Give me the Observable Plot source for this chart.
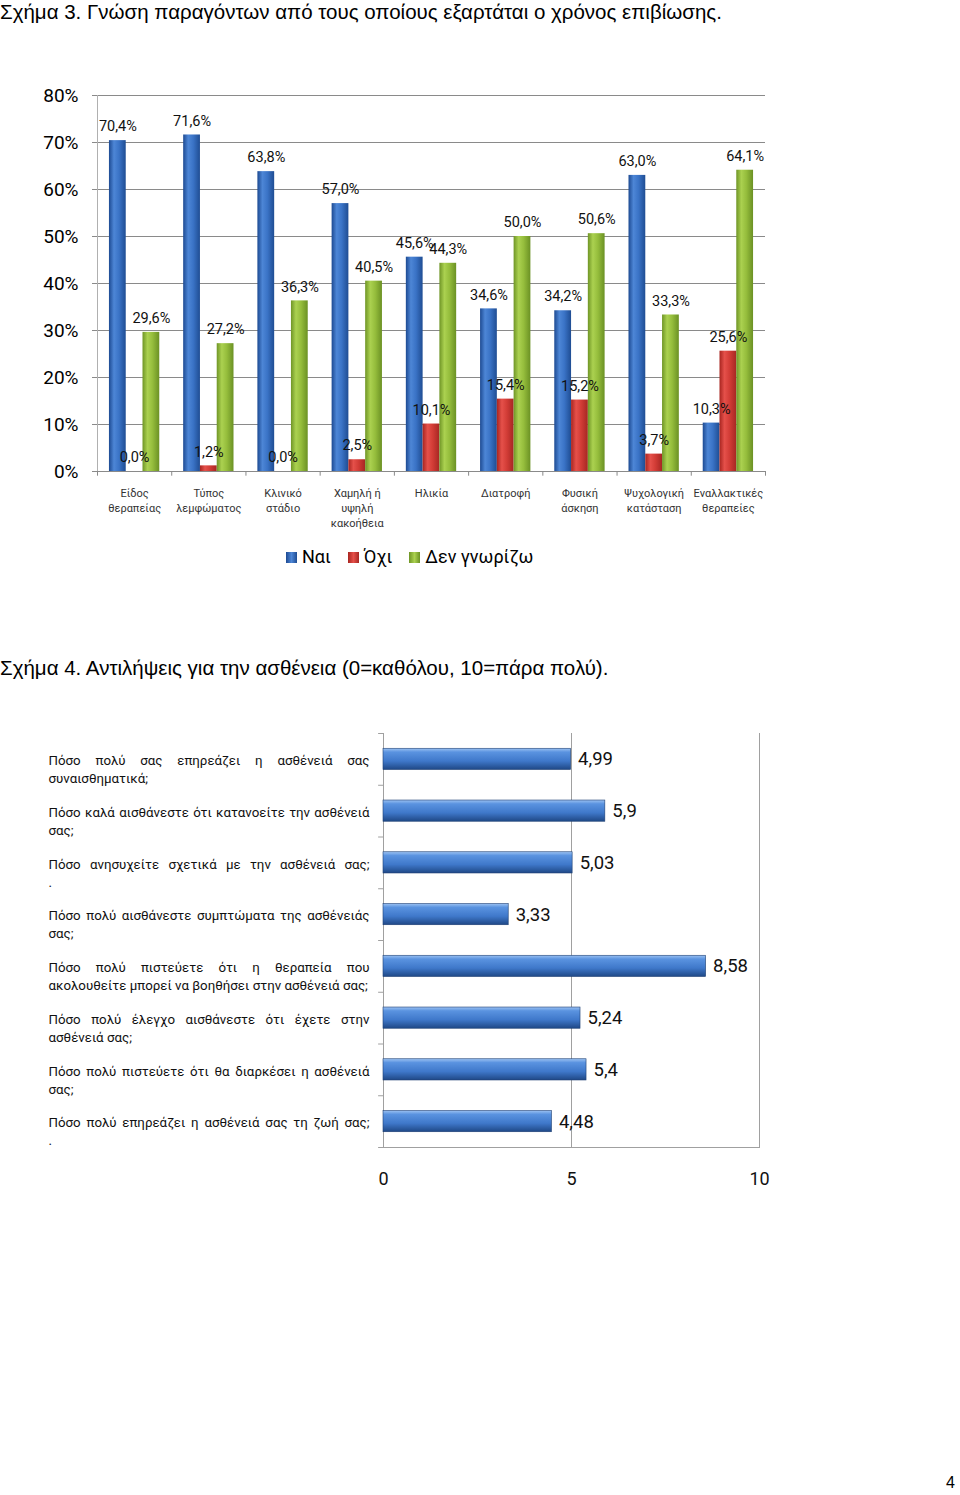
<!DOCTYPE html>
<html>
<head>
<meta charset="utf-8">
<script src="https://cdn.jsdelivr.net/npm/d3@7"></script>
<script src="https://cdn.jsdelivr.net/npm/@observablehq/plot@0.6"></script>
<style>
  html, body { margin: 0; padding: 0; background: #fff; }
  body { width: 960px; height: 1495px; position: relative; overflow: hidden; font-family: Roboto, "Noto Sans", sans-serif; }
  .title { position: absolute; left: 0; font-family: "Liberation Sans", Arial, sans-serif; font-size: 20.5px; line-height: 23px; color: #000; white-space: nowrap; }
  #t1 { top: 0px; }
  #t2 { top: 656px; }
  #chart1 { position: absolute; left: 0; top: 80px; }
  #chart2 { position: absolute; left: 0; top: 720px; }
  #legend { position: absolute; left: 286px; top: 545px; display: flex; align-items: center; font-size: 18px; line-height: 24px; color: #000; }
  #legend .item { display: flex; align-items: center; margin-right: 17px; }
  #legend .sw { width: 11px; height: 11px; margin-right: 5px; }
  #page { position: absolute; left: 946px; top: 1474px; font-family: "Liberation Sans", Arial, sans-serif; font-size: 16px; }
</style>
</head>
<body>
<svg width="0" height="0" style="position:absolute">
  <defs>
    <linearGradient id="gBlue" x1="0" y1="0" x2="1" y2="0">
      <stop offset="0" stop-color="#1d4a92"/>
      <stop offset="0.3" stop-color="#4d86d6"/>
      <stop offset="0.6" stop-color="#3a73c6"/>
      <stop offset="1" stop-color="#1f4d93"/>
    </linearGradient>
    <linearGradient id="gRed" x1="0" y1="0" x2="1" y2="0">
      <stop offset="0" stop-color="#a82520"/>
      <stop offset="0.3" stop-color="#e5504a"/>
      <stop offset="0.6" stop-color="#d23c36"/>
      <stop offset="1" stop-color="#a62723"/>
    </linearGradient>
    <linearGradient id="gGreen" x1="0" y1="0" x2="1" y2="0">
      <stop offset="0" stop-color="#6f9526"/>
      <stop offset="0.3" stop-color="#abd150"/>
      <stop offset="0.6" stop-color="#95bd3c"/>
      <stop offset="1" stop-color="#6b9124"/>
    </linearGradient>
    <linearGradient id="gHBar" x1="0" y1="0" x2="0" y2="1">
      <stop offset="0" stop-color="#9cc2f2"/>
      <stop offset="0.18" stop-color="#5a93e0"/>
      <stop offset="0.6" stop-color="#3f78ca"/>
      <stop offset="1" stop-color="#1f4886"/>
    </linearGradient>
  </defs>
</svg>

<div id="t1" class="title">Σχήμα 3. Γνώση παραγόντων από τους οποίους εξαρτάται ο χρόνος επιβίωσης.</div>
<div id="chart1"></div>
<div id="legend"></div>
<div id="t2" class="title">Σχήμα 4. Αντιλήψεις για την ασθένεια (0=καθόλου, 10=πάρα πολύ).</div>
<div id="chart2"></div>
<div id="page">4</div>

<script>
// ---------- Data: Figure 3 ----------
const categories = [
  "Είδος\nθεραπείας",
  "Τύπος\nλεμφώματος",
  "Κλινικό\nστάδιο",
  "Χαμηλή ή\nυψηλή\nκακοήθεια",
  "Ηλικία",
  "Διατροφή",
  "Φυσική\nάσκηση",
  "Ψυχολογική\nκατάσταση",
  "Εναλλακτικές\nθεραπείες"
];
const seriesNames = ["Ναι", "Όχι", "Δεν γνωρίζω"];
const yesValues = [70.4, 71.6, 63.8, 57.0, 45.6, 34.6, 34.2, 63.0, 10.3];
const noValues = [0.0, 1.2, 0.0, 2.5, 10.1, 15.4, 15.2, 3.7, 25.6];
const dontKnowValues = [29.6, 27.2, 36.3, 40.5, 44.3, 50.0, 50.6, 33.3, 64.1];
const yTicks = [0, 10, 20, 30, 40, 50, 60, 70, 80];

// ---------- Data: Figure 4 ----------
const questions = [
  "Πόσο πολύ σας επηρεάζει η ασθένειά σας\nσυναισθηματικά;",
  "Πόσο καλά αισθάνεστε ότι κατανοείτε την ασθένειά\nσας;",
  "Πόσο ανησυχείτε σχετικά με την ασθένειά σας;\n.",
  "Πόσο πολύ αισθάνεστε συμπτώματα της ασθένειάς\nσας;",
  "Πόσο πολύ πιστεύετε ότι η θεραπεία που\nακολουθείτε μπορεί να βοηθήσει στην ασθένειά σας;",
  "Πόσο πολύ έλεγχο αισθάνεστε ότι έχετε στην\nασθένειά σας;",
  "Πόσο πολύ πιστεύετε ότι θα διαρκέσει η ασθένειά\nσας;",
  "Πόσο πολύ επηρεάζει η ασθένειά σας τη ζωή σας;\n."
];
const scores = [4.99, 5.9, 5.03, 3.33, 8.58, 5.24, 5.4, 4.48];
const xTicks = [0, 5, 10];

// ---------- Chart 1 ----------
const seriesFills = ["url(#gBlue)", "url(#gRed)", "url(#gGreen)"];
const legendFills = ["linear-gradient(90deg,#1d4a92,#4d86d6,#1f4d93)", "linear-gradient(90deg,#a82520,#e5504a,#a62723)", "linear-gradient(90deg,#6f9526,#abd150,#6b9124)"];
const seriesValues = [yesValues, noValues, dontKnowValues];

const W1 = 800, H1 = 460, ML1 = 97, MR1 = 35, MT1 = 15, MB1 = 69;
const bw = (W1 - ML1 - MR1) / categories.length;
const barW = bw * 0.226;
const pct = v => v.toFixed(1).replace(".", ",") + "%";

const rowsFor = (vals, s) => categories.map((c, i) => ({category: c, series: s, value: vals[i]}));

const marks1 = [
  Plot.ruleY(yTicks.slice(1), {stroke: "#8a8a8a", strokeWidth: 1}),
  Plot.axisY({ticks: yTicks, tickFormat: d => d + "%", tickSize: 5, tickPadding: 14, fontSize: 19, stroke: "#8a8a8a", fill: "#000", label: null}),
  Plot.frame({anchor: "left", stroke: "#b0b0b0"}),
  Plot.frame({anchor: "bottom", stroke: "#8a8a8a"}),
  Plot.ruleX(categories, {x: d => d, dx: -bw / 2, y1: 0, y2: -1, stroke: "#8a8a8a"}),
  Plot.ruleX(categories.slice(-1), {x: d => d, dx: bw / 2, y1: 0, y2: -1, stroke: "#8a8a8a"}),
  Plot.axisX({tickSize: 0, tickPadding: 15, fontSize: 11, lineHeight: 1.36, fill: "#333", label: null})
];
seriesNames.forEach((s, i) => {
  const left = bw / 2 - 1.5 * barW + i * barW;
  marks1.push(Plot.barY(rowsFor(seriesValues[i], s), {
    x: "category", y: "value", fill: seriesFills[i],
    insetLeft: left, insetRight: bw - left - barW
  }));
});
seriesNames.forEach((s, i) => {
  marks1.push(Plot.text(rowsFor(seriesValues[i], s), {
    x: "category", y: "value", text: d => pct(d.value),
    dx: (i - 1) * barW, dy: -14, fontSize: 14.5, fill: "#111"
  }));
});

const chart1 = Plot.plot({
  width: W1, height: H1,
  marginLeft: ML1, marginRight: MR1, marginTop: MT1, marginBottom: MB1,
  style: {fontFamily: "Roboto, 'Noto Sans', sans-serif", background: "transparent", overflow: "visible"},
  x: {domain: categories, padding: 0, round: false, axis: null, label: null},
  y: {domain: [0, 80], axis: null, label: null},
  marks: marks1
});
document.getElementById("chart1").append(chart1);

// legend
const legend = document.getElementById("legend");
seriesNames.forEach((s, i) => {
  const item = document.createElement("div");
  item.className = "item";
  const sw = document.createElement("span");
  sw.className = "sw";
  sw.style.background = legendFills[i];
  const lab = document.createElement("span");
  lab.textContent = s;
  item.append(sw, lab);
  legend.append(item);
});

// ---------- Chart 2 ----------
const W2 = 800, H2 = 480, ML2 = 383, MR2 = 41, MT2 = 13, MB2 = 53;
const step2 = (H2 - MT2 - MB2) / questions.length;
const scoreRows = questions.map((q, i) => ({question: q, score: scores[i]}));
const num = v => String(v).replace(".", ",");

const chart2 = Plot.plot({
  width: W2, height: H2,
  marginLeft: ML2, marginRight: MR2, marginTop: MT2, marginBottom: MB2,
  style: {fontFamily: "Roboto, 'Noto Sans', sans-serif", background: "transparent", overflow: "visible"},
  x: {domain: [0, 10], axis: null, label: null},
  y: {domain: questions, paddingInner: 0.59, paddingOuter: 0.295, round: false, axis: null, label: null},
  marks: [
    Plot.ruleX(xTicks, {stroke: "#a0a0a0"}),
    Plot.frame({anchor: "bottom", stroke: "#a0a0a0"}),
    Plot.ruleY(questions, {y: d => d, dy: -step2 / 2, x1: 0, x2: -0.13, stroke: "#a0a0a0"}),
    Plot.ruleY(questions.slice(-1), {y: d => d, dy: step2 / 2, x1: 0, x2: -0.13, stroke: "#a0a0a0"}),
    Plot.barX(scoreRows, {x: "score", y: "question", fill: "url(#gHBar)", stroke: "#1d3f73", strokeWidth: 0.6}),
    Plot.text(scoreRows, {x: "score", y: "question", text: d => num(d.score), dx: 7, textAnchor: "start", fontSize: 18.5, fill: "#111"}),
    Plot.axisX({ticks: xTicks, tickSize: 0, tickPadding: 25, fontSize: 18, fill: "#111", label: null}),
    Plot.axisY({tickSize: 0, tickPadding: 335, textAnchor: "start", lineAnchor: "top", dy: -7, fontSize: 13.3, lineHeight: 1.35, fill: "#111", label: null})
  ]
});
document.getElementById("chart2").append(chart2);

// justify the question labels (all lines except the last in each label)
const targetWidth = 321;
chart2.querySelectorAll('g[aria-label="y-axis tick label"] text').forEach(t => {
  const spans = t.querySelectorAll("tspan");
  spans.forEach((sp, k) => {
    if (k === spans.length - 1) return;
    const txt = sp.textContent;
    const nSpaces = (txt.match(/ /g) || []).length;
    if (!nSpaces) return;
    const len = sp.getComputedTextLength();
    const extra = (targetWidth - len) / nSpaces;
    sp.style.wordSpacing = extra + "px";
  });
});
</script>
</body>
</html>
